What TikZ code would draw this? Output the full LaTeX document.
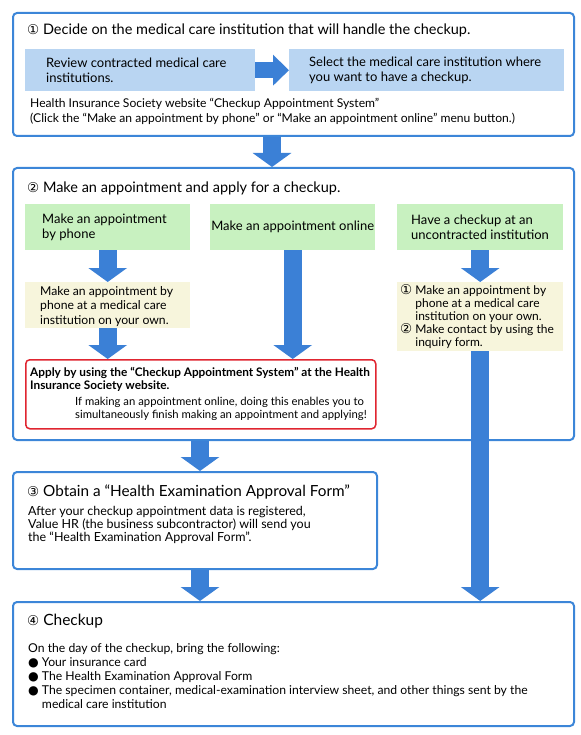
\documentclass[tikz,border=0pt]{standalone}
\usepackage{fontspec}
\setmainfont{Lato}
\newfontfamily\symfont{DejaVu Sans}
\usetikzlibrary{arrows.meta}
\definecolor{frameblue}{HTML}{3C86D8}
\definecolor{arrowblue}{HTML}{3B80D6}
\definecolor{paleblue}{HTML}{B9D5F2}
\definecolor{palegreen}{HTML}{C8F1C0}
\definecolor{paleyellow}{HTML}{F7F5DC}
\definecolor{alertred}{HTML}{E02530}
\newcommand{\circnum}[1]{{\symfont\fontsize{13.5}{13.5}\selectfont #1}}

\begin{document}
\begin{tikzpicture}[x=1pt, y=-1pt,
  stage/.style={draw=frameblue, line width=2pt, rounded corners=4pt, fill=white, anchor=north west, inner sep=0pt},
  tile/.style={anchor=north west, inner sep=0pt},
  heading/.style={anchor=west, inner sep=0pt, font=\fontsize{14.5}{17}\selectfont},
  tiletext/.style={anchor=west, inner sep=0pt, align=left, font=\fontsize{13}{14.5}\selectfont},
  note/.style={anchor=north west, inner sep=0pt, align=left, font=\fontsize{12.1}{15}\selectfont},
  bigarrow/.style={arrowblue, line width=18pt, -{Triangle[width=38pt, length=14pt]}},
  sidearrow/.style={arrowblue, line width=16pt, -{Triangle[width=30pt, length=16pt]}}]
\useasboundingbox (0,0) rectangle (580,735);

% stage frames
\node[stage, minimum width=561pt, minimum height=123pt] (decide) at (12,12) {};
\node[stage, minimum width=561pt, minimum height=272pt] (reserve) at (12,167) {};
\node[stage, minimum width=364pt, minimum height=97pt] (form) at (12,471) {};
\node[stage, minimum width=561pt, minimum height=124pt] (checkup) at (12,601) {};

% step 1
\node[heading] at (27,30) {\circnum{①} Decide on the medical care institution that will handle the checkup.};
\node[tile, fill=paleblue, minimum width=230pt, minimum height=42pt] (review) at (25,49) {};
\node[tile, fill=paleblue, minimum width=275pt, minimum height=42pt] (select) at (289,49) {};
\node[tiletext] at ([xshift=21pt]review.west) {Review contracted medical care\\institutions.};
\node[tiletext] at ([xshift=20pt]select.west) {Select the medical care institution where\\you want to have a checkup.};
\draw[sidearrow] (review.east) -- (select.west);
\node[note] at (30,98) {Health Insurance Society website “Checkup Appointment System”\\(Click the “Make an appointment by phone” or “Make an appointment online” menu button.)};

% step 2
\node[heading] at (27,188) {\circnum{②} Make an appointment and apply for a checkup.};
\node[tile, fill=palegreen, minimum width=165pt, minimum height=46pt] (phone) at (25,204) {};
\node[tile, fill=palegreen, minimum width=165pt, minimum height=46pt] (online) at (210,204) {};
\node[tile, fill=palegreen, minimum width=166pt, minimum height=46pt] (outside) at (397,204) {};
\node[tiletext] at ([xshift=17pt]phone.west) {Make an appointment\\by phone};
\node[tiletext, anchor=center] at (online.center) {Make an appointment online};
\node[tiletext] at ([xshift=14pt]outside.west) {Have a checkup at an\\uncontracted institution};
\node[tile, fill=paleyellow, minimum width=165pt, minimum height=46pt] (call) at (25,282) {};
\node[tile, fill=paleyellow, minimum width=166pt, minimum height=69pt] (contact) at (397,282) {};
\node[note, font=\fontsize{12.2}{14.6}\selectfont] at (40,286) {Make an appointment by\\phone at a medical care\\institution on your own.};
\node[note, font=\fontsize{12}{13.1}\selectfont] at (400,284) {\circnum{①} Make an appointment by\\\hphantom{\circnum{①} }phone at a medical care\\\hphantom{\circnum{①} }institution on your own.\\\circnum{②} Make contact by using the\\\hphantom{\circnum{②} }inquiry form.};
\node[tile, draw=alertred, line width=1.5pt, rounded corners=4pt, fill=white, minimum width=350pt, minimum height=69pt] (system) at (25,359) {};
\node[note, font=\bfseries\fontsize{11.8}{13.5}\selectfont] at (30,367) {Apply by using the “Checkup Appointment System” at the Health\\Insurance Society website.};
\node[note, font=\fontsize{11.3}{13.2}\selectfont] at (75,397) {If making an appointment online, doing this enables you to\\simultaneously finish making an appointment and applying!};
\draw[bigarrow] (phone.south) -- (call.north);
\draw[bigarrow] (call.south) -- (call.south |- system.north);
\draw[bigarrow] (online.south) -- (online.south |- system.north);
\draw[bigarrow] (outside.south) -- (contact.north);

% step 3
\node[heading, font=\fontsize{15.3}{17}\selectfont] at (27,492) {\circnum{③} Obtain a “Health Examination Approval Form”};
\node[note, font=\fontsize{12.5}{12.8}\selectfont] at (28,506) {After your checkup appointment data is registered,\\Value HR (the business subcontractor) will send you\\the “Health Examination Approval Form”.};

% step 4
\node[heading, font=\fontsize{15.5}{17}\selectfont] at (27,621) {\circnum{④} Checkup};
\node[note, font=\fontsize{12.2}{14.2}\selectfont] at (28,643) {On the day of the checkup, bring the following:\\
{\symfont ●} Your insurance card\\
{\symfont ●} The Health Examination Approval Form\\
{\symfont ●} The specimen container, medical-examination interview sheet, and other things sent by the\\
\hphantom{{\symfont ●} }medical care institution};

% connectors between stages
\coordinate (dropA) at (272,0);
\coordinate (dropB) at (200,0);
\draw[bigarrow] (decide.south -| dropA) -- (reserve.north -| dropA);
\draw[bigarrow] (reserve.south -| dropB) -- (form.north -| dropB);
\draw[bigarrow] (form.south -| dropB) -- (checkup.north -| dropB);
\draw[bigarrow] (contact.south) -- (contact.south |- checkup.north);
\end{tikzpicture}
\end{document}
